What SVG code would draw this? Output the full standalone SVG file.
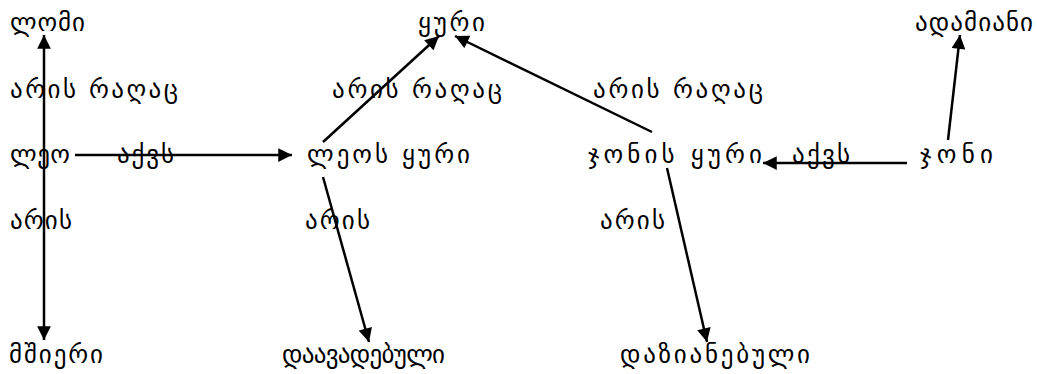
<svg xmlns="http://www.w3.org/2000/svg" width="1037" height="374" viewBox="0 0 1037 374">
<style>
text{font-family:"DejaVu Sans","Noto Sans",sans-serif;font-size:25px;fill:#000}
.c line{stroke:#000;stroke-width:2.5}
</style>
<defs>
<marker id="a" viewBox="0 0 10 10" refX="10" refY="5" markerWidth="6" markerHeight="5.5" markerUnits="strokeWidth" orient="auto"><path d="M0,0L10,5L0,10z" fill="#000"/></marker>
</defs>
<rect width="1037" height="374" fill="#fff"/>
<g class="c">
<line x1="44" y1="155" x2="44" y2="35" marker-end="url(#a)"/>
<line x1="44" y1="155" x2="44" y2="340" marker-end="url(#a)"/>
<line x1="75" y1="155" x2="292" y2="155" marker-end="url(#a)"/>
<line x1="323" y1="142" x2="439" y2="36" marker-end="url(#a)"/>
<line x1="652" y1="132" x2="455" y2="36" marker-end="url(#a)"/>
<line x1="323" y1="177" x2="369" y2="342" marker-end="url(#a)"/>
<line x1="667" y1="168" x2="707" y2="342" marker-end="url(#a)"/>
<line x1="907" y1="163" x2="763" y2="163" marker-end="url(#a)"/>
<line x1="948" y1="140" x2="960" y2="35" marker-end="url(#a)"/>
</g>
<g id="n1"><text x="10" y="31" textLength="75" lengthAdjust="spacing">ლომი</text></g>
<g id="n2"><text x="10" y="163" textLength="60" lengthAdjust="spacing">ლეო</text></g>
<g id="n3"><text x="307" y="163" textLength="163" lengthAdjust="spacing">ლეოს ყური</text></g>
<g id="n4"><text x="418" y="31" textLength="67" lengthAdjust="spacing">ყური</text></g>
<g id="n5"><text x="588" y="163" textLength="174" lengthAdjust="spacing">ჯონის ყური</text></g>
<g id="n6"><text x="920" y="163" textLength="73" lengthAdjust="spacing">ჯონი</text></g>
<g id="n7"><text x="915" y="31" textLength="118" lengthAdjust="spacing">ადამიანი</text></g>
<g id="n8"><text x="9" y="363" textLength="94" lengthAdjust="spacing">მშიერი</text></g>
<g id="n9"><text x="282" y="363" textLength="163" lengthAdjust="spacing">დაავადებული</text></g>
<g id="n10"><text x="620" y="363" textLength="190" lengthAdjust="spacing">დაზიანებული</text></g>
<g id="labels">
<text x="10" y="98" textLength="168" lengthAdjust="spacing">არის რაღაც</text>
<text x="117" y="163" textLength="57" lengthAdjust="spacing">აქვს</text>
<text x="10" y="229" textLength="62" lengthAdjust="spacing">არის</text>
<text x="332" y="98" textLength="170" lengthAdjust="spacing">არის რაღაც</text>
<text x="593" y="98" textLength="170" lengthAdjust="spacing">არის რაღაც</text>
<text x="305" y="229" textLength="65" lengthAdjust="spacing">არის</text>
<text x="600" y="229" textLength="65" lengthAdjust="spacing">არის</text>
<text x="792" y="163" textLength="58" lengthAdjust="spacing">აქვს</text>
</g>
</svg>
